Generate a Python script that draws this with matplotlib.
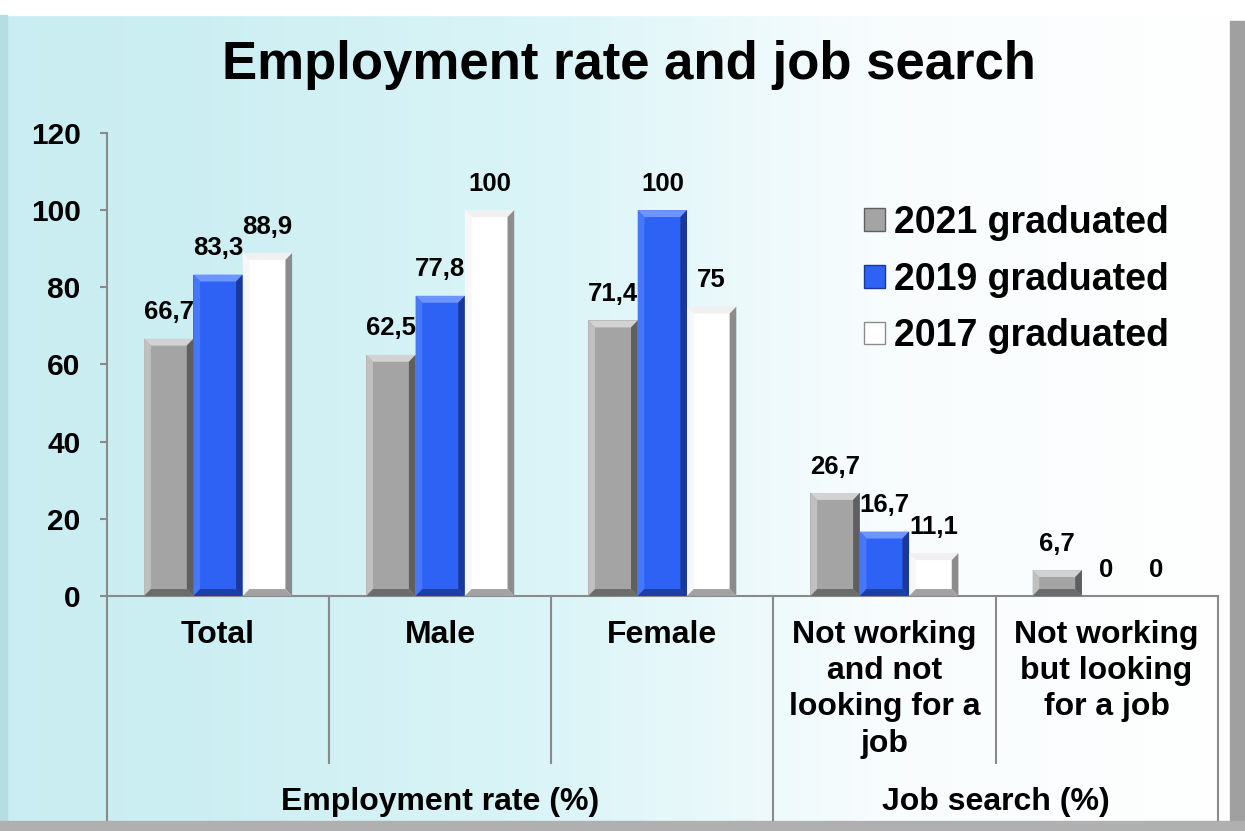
import numpy as np
import matplotlib
matplotlib.use("Agg")
import matplotlib.pyplot as plt
from matplotlib.patches import Polygon, Rectangle, Patch

plt.rcParams['font.family'] = ['Liberation Sans', 'DejaVu Sans']
plt.rcParams['font.weight'] = 'bold'

# data
categories = ["Total", "Male", "Female",
              "Not working\nand not\nlooking for a\njob",
              "Not working\nbut looking\nfor a job"]
groups = ["Employment rate (%)", "Job search (%)"]
group_sizes = [3, 2]
series_names = ["2021 graduated", "2019 graduated", "2017 graduated"]
v2021 = [66.7, 62.5, 71.4, 26.7, 6.7]
v2019 = [83.3, 77.8, 100, 16.7, 0]
v2017 = [88.9, 100, 75, 11.1, 0]
yticks = [0, 20, 40, 60, 80, 100, 120]

# face, top, left, right, bottom
shades = [
    ["#a4a4a4", "#d2d2d2", "#c0c0c0", "#5f5f5f", "#6c6c6c"],
    ["#2d62f4", "#6e95ff", "#4878fa", "#1a389c", "#1d3ea6"],
    ["#ffffff", "#f0f0f0", "#f7f7f7", "#8c8c8c", "#a2a2a2"],
]

fig = plt.figure(figsize=(12.45, 8.31), dpi=100)

# background gradient + frame
bg = fig.add_axes([0, 0, 1, 1], zorder=-10)
bg.set_axis_off()
xs = np.linspace(0, 1, 400)
r = np.interp(xs, [0, 0.15, 0.45, 0.7, 1], [0.79, 0.80, 0.86, 0.97, 1.0])
g = np.interp(xs, [0, 0.15, 0.45, 0.7, 1], [0.93, 0.935, 0.96, 0.99, 1.0])
b = np.interp(xs, [0, 0.15, 0.45, 0.7, 1], [0.95, 0.95, 0.97, 0.995, 1.0])
grad = np.stack([r, g, b], axis=-1)[None, :, :]
bg.imshow(grad, aspect='auto', extent=[0, 1, 0, 1])
bg.set_xlim(0, 1)
bg.set_ylim(0, 1)
bg.add_patch(Rectangle((0, 0.982), 1, 0.018, color='white', zorder=2))
bg.add_patch(Rectangle((0.988, 0), 0.012, 0.975, color='#a0a0a0', zorder=3))
bg.add_patch(Rectangle((0, 0), 1, 0.012, color='#b0b0b0', zorder=3))
bg.add_patch(Rectangle((0, 0.012), 0.006, 0.97, color='#b5dde2', zorder=2))

ax = fig.add_axes([0.086, 0.2828, 0.892, 0.5572])
ax.patch.set_alpha(0)
ax.set_xlim(-0.5, 4.5)
ax.set_ylim(0, 120)
ax.set_yticks(yticks)
ax.tick_params(axis='y', labelsize=21.5, length=5, width=1.5, color='#8a8a8a', pad=14)
ax.set_xticks([])
for s in ['top', 'right']:
    ax.spines[s].set_visible(False)
for s in ['left', 'bottom']:
    ax.spines[s].set_color('#8a8a8a')
    ax.spines[s].set_linewidth(1.5)

x = np.arange(len(categories))
w = 0.222
dx = 0.03
dy = 1.8
series = [v2021, v2019, v2017]
for i, vals in enumerate(series):
    bars = ax.bar(x + (i - 1) * w, vals, w, color=shades[i][0], linewidth=0, zorder=2)
    for p, v in zip(bars.patches, vals):
        x0, y0 = p.get_x(), p.get_y()
        x1, y1 = x0 + p.get_width(), y0 + p.get_height()
        if p.get_height() > 0:
            d = min(dy, p.get_height() / 3)
            polys = [
                ([(x0, y1), (x1, y1), (x1 - dx, y1 - d), (x0 + dx, y1 - d)], shades[i][1]),
                ([(x0, y0), (x0 + dx, y0 + d), (x0 + dx, y1 - d), (x0, y1)], shades[i][2]),
                ([(x1, y0), (x1 - dx, y0 + d), (x1 - dx, y1 - d), (x1, y1)], shades[i][3]),
                ([(x0, y0), (x1, y0), (x1 - dx, y0 + d), (x0 + dx, y0 + d)], shades[i][4]),
            ]
            for pts, c in polys:
                ax.add_patch(Polygon(pts, closed=True, color=c, linewidth=0, zorder=3))
        lab = ('%g' % v).replace('.', ',')
        ax.annotate(lab, (p.get_x() + p.get_width() / 2, p.get_height()),
                    xytext=(0, 19), textcoords='offset points', ha='center', va='center',
                    fontsize=18.5, fontweight='bold', zorder=5)

# category labels and separators
tr = ax.get_xaxis_transform()
for xi, c in zip(x, categories):
    ax.text(xi, -0.052, c, transform=tr, ha='center', va='top', fontsize=23,
            fontweight='bold', linespacing=1.27)
edges = np.cumsum([0] + group_sizes) - 0.5
for k in range(len(categories) + 1):
    xe = k - 0.5
    y_end = -0.484 if xe in edges else -0.361
    ax.plot([xe, xe], [0, y_end], transform=tr, color='#8a8a8a', lw=1.5, clip_on=False)
for gi, gname in enumerate(groups):
    ax.text((edges[gi] + edges[gi + 1]) / 2, -0.445, gname, transform=tr, ha='center',
            va='center', fontsize=23, fontweight='bold')

handles = [Patch(facecolor=shades[i][0], edgecolor=shades[i][3], linewidth=1) for i in range(3)]
ax.legend(handles, series_names, loc='upper left', bbox_to_anchor=(0.665, 0.885),
          frameon=False, fontsize=27, handlelength=0.55, handleheight=0.55,
          handletextpad=0.25, labelspacing=0.55, borderpad=0)

fig.suptitle("Employment rate and job search", x=0.505, y=0.952, fontsize=38, fontweight='bold')

fig.savefig("out.png", dpi=100)
